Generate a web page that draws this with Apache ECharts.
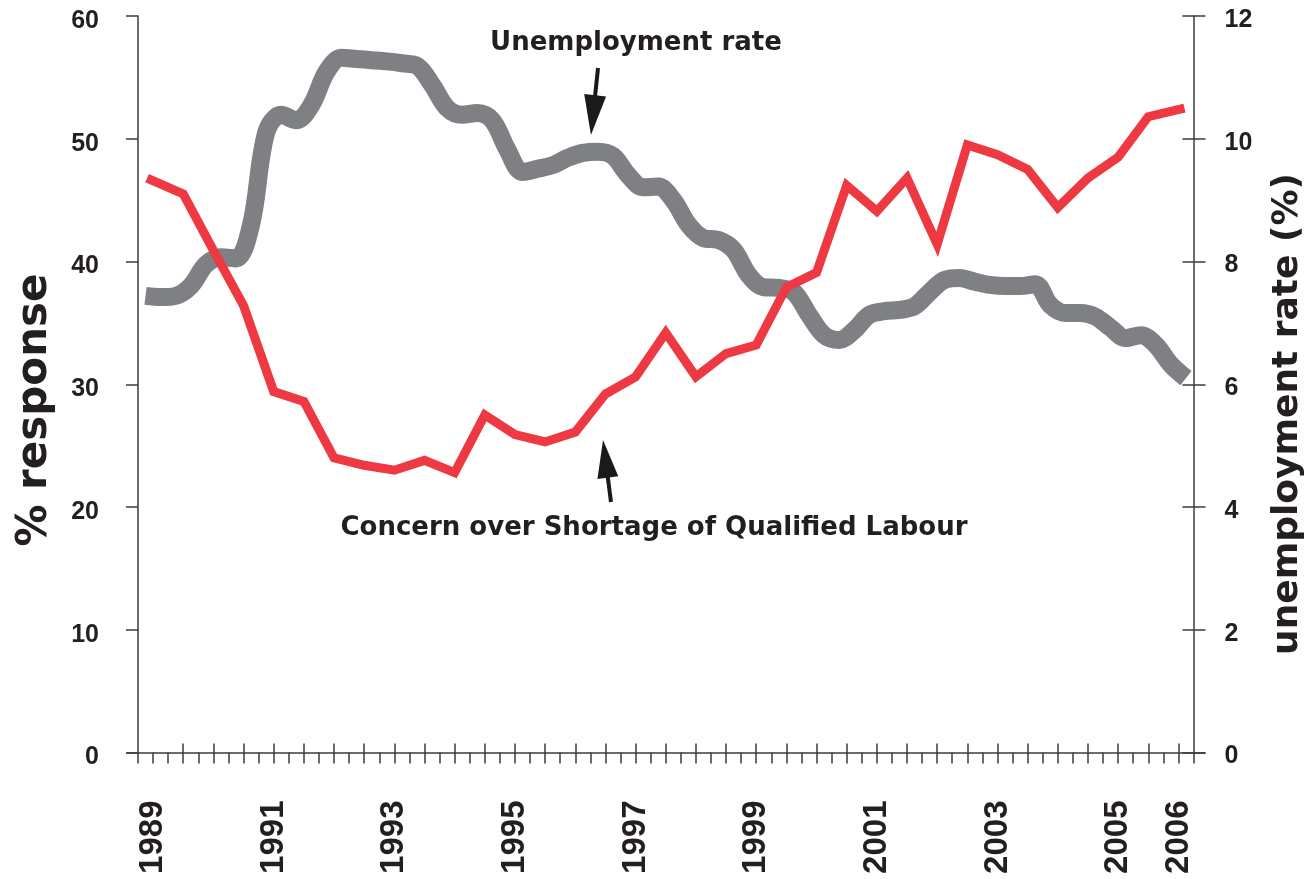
<!DOCTYPE html>
<html>
<head>
<meta charset="utf-8">
<script src="https://cdn.jsdelivr.net/npm/echarts@6/dist/echarts.min.js"></script>
<style>
html,body{margin:0;padding:0;background:#ffffff;}
#chart{width:1311px;height:879px;}
</style>
</head>
<body>
<div id="chart"></div>
<script>
// ---------- data ----------
const yearLabels = [1989, 1991, 1993, 1995, 1997, 1999, 2001, 2003, 2005, 2006];

// Concern over Shortage of Qualified Labour (% response, left axis), half-yearly
const concernYears = [1988.9, 1989.5, 1990.0, 1990.5, 1991.0, 1991.5, 1992.0, 1992.5, 1993.0, 1993.5,
  1994.0, 1994.5, 1995.0, 1995.5, 1996.0, 1996.5, 1997.0, 1997.5, 1998.0, 1998.5,
  1999.0, 1999.5, 2000.0, 2000.5, 2001.0, 2001.5, 2002.0, 2002.5, 2003.0, 2003.5,
  2004.0, 2004.5, 2005.0, 2005.5, 2006.1];
const concernValues = [46.8, 45.5, 40.9, 36.4, 29.4, 28.6, 24.0, 23.4, 23.0, 23.8,
  22.8, 27.5, 25.9, 25.3, 26.1, 29.2, 30.6, 34.2, 30.6, 32.5,
  33.2, 37.9, 39.1, 46.2, 44.1, 46.8, 41.4, 49.5, 48.7, 47.5,
  44.4, 46.8, 48.5, 51.8, 52.5];

// Unemployment rate (%, right axis), quarterly from 1988.875
const unempValues = [7.44, 7.42, 7.44, 7.6, 7.95, 8.07, 8.05, 8.6, 10.1, 10.39,
  10.3, 10.55, 11.09, 11.32, 11.3, 11.28, 11.26, 11.23, 11.19, 10.88,
  10.5, 10.39, 10.42, 10.3, 9.82, 9.46, 9.51, 9.57, 9.69, 9.77,
  9.79, 9.72, 9.41, 9.21, 9.22, 9.0, 8.6, 8.38, 8.35, 8.19,
  7.78, 7.58, 7.57, 7.5, 7.13, 6.8, 6.72, 6.88, 7.13, 7.19,
  7.21, 7.27, 7.5, 7.7, 7.73, 7.67, 7.62, 7.6, 7.6, 7.63,
  7.29, 7.16, 7.16, 7.1, 6.92, 6.75, 6.8, 6.64, 6.32, 6.1];
const unempYears = unempValues.map((_, i) => 1988.875 + i * 0.25);

// ---------- layout ----------
const GRID_L = 138, GRID_R = 1193.5, GRID_T = 16, GRID_B = 752.5;
const X_MIN = 1988.75, X_MAX = 2006.25;
const PX_PER_YR = (GRID_R - GRID_L) / (X_MAX - X_MIN);
const AX_L = 127, AX_R = 1205;
const X2_MIN = X_MIN - (GRID_L - AX_L) / PX_PER_YR;
const X2_MAX = X_MAX + (AX_R - GRID_R) / PX_PER_YR;

const quarterTicks = [];
for (let q = 1988.75; q <= 2006.25 + 1e-9; q += 0.25) quarterTicks.push(q);
const halfTicks = [];
for (let h = 1989.5; h <= 2006 + 1e-9; h += 0.5) halfTicks.push(h);

const AX_COLOR = '#3b3b3b';
const TXT = '#231f20';
const RED = '#ee3942';
const GRAY = '#7f8084';
const NUM_FONT = '"Liberation Sans", Arial, sans-serif';
const TXT_FONT = '"DejaVu Sans", sans-serif';

const chart = echarts.init(document.getElementById('chart'), null, {renderer: 'canvas'});

const option = {
  animation: false,
  backgroundColor: '#ffffff',
  grid: [
    {left: GRID_L, top: GRID_T, width: GRID_R - GRID_L, height: GRID_B - GRID_T},
    {left: AX_L, top: GRID_T, width: AX_R - AX_L, height: GRID_B - GRID_T}
  ],
  xAxis: [
    {gridIndex: 0, type: 'value', min: X_MIN, max: X_MAX, show: false},
    {
      gridIndex: 1, type: 'value', min: X2_MIN, max: X2_MAX, position: 'bottom',
      axisLine: {show: true, onZero: false, lineStyle: {color: AX_COLOR, width: 1.5}},
      axisTick: {show: true, inside: false, length: 11, customValues: quarterTicks,
        lineStyle: {color: AX_COLOR, width: 1.5}},
      axisLabel: {show: true, customValues: yearLabels, rotate: 90, margin: 48,
        fontSize: 33, fontWeight: 'bold', fontFamily: NUM_FONT, color: TXT,
        formatter: v => String(Math.round(v))},
      splitLine: {show: false}
    },
    {
      gridIndex: 1, type: 'value', min: X2_MIN, max: X2_MAX, position: 'bottom',
      axisLine: {show: false, onZero: false},
      axisTick: {show: true, inside: true, length: 9, customValues: halfTicks,
        lineStyle: {color: AX_COLOR, width: 1.5}},
      axisLabel: {show: false},
      splitLine: {show: false}
    }
  ],
  yAxis: [
    {
      gridIndex: 0, type: 'value', position: 'left', min: 0, max: 60, interval: 10,
      axisLine: {show: true, onZero: false, lineStyle: {color: AX_COLOR, width: 1.5}},
      axisTick: {show: true, inside: false, length: 12, lineStyle: {color: AX_COLOR, width: 1.5}},
      axisLabel: {show: true, margin: 39, fontSize: 25, fontWeight: 'bold', fontFamily: NUM_FONT,
        color: TXT, verticalAlign: 'top', lineHeight: 10},
      splitLine: {show: false}
    },
    {
      gridIndex: 0, type: 'value', position: 'right', min: 0, max: 12, interval: 2,
      axisLine: {show: true, onZero: false, lineStyle: {color: AX_COLOR, width: 1.5}},
      axisTick: {show: true, inside: false, length: 12, lineStyle: {color: AX_COLOR, width: 1.5}},
      axisLabel: {show: true, margin: 31, fontSize: 25, fontWeight: 'bold', fontFamily: NUM_FONT,
        color: TXT, verticalAlign: 'top', lineHeight: 8},
      splitLine: {show: false}
    },
    {
      gridIndex: 0, type: 'value', position: 'right', min: 0, max: 12, interval: 2,
      axisLine: {show: false, onZero: false},
      axisTick: {show: true, inside: true, length: 11, lineStyle: {color: AX_COLOR, width: 1.5}},
      axisLabel: {show: false},
      splitLine: {show: false}
    },
    {gridIndex: 1, type: 'value', min: 0, max: 1, show: false}
  ],
  series: [
    {
      name: 'Unemployment rate', type: 'line', xAxisIndex: 0, yAxisIndex: 1,
      data: unempYears.map((x, i) => [x, unempValues[i]]),
      showSymbol: false, symbol: 'none', smooth: 0.35,
      lineStyle: {color: GRAY, width: 18, cap: 'butt', join: 'round'},
      z: 2
    },
    {
      name: 'Concern over Shortage of Qualified Labour', type: 'line', xAxisIndex: 0, yAxisIndex: 0,
      data: concernYears.map((x, i) => [x, concernValues[i]]),
      showSymbol: false, symbol: 'none', smooth: false,
      lineStyle: {color: RED, width: 9, cap: 'butt', join: 'miter', miterLimit: 10},
      z: 3
    }
  ]
};
chart.setOption(option);

// ---------- annotations (anchored in data coordinates) ----------
function px(axisY, x, y) {
  return chart.convertToPixel({xAxisIndex: 0, yAxisIndex: axisY}, [x, y]);
}
function arrow(tail, tip, headLen, headW, shaftW) {
  const dx = tip[0] - tail[0], dy = tip[1] - tail[1];
  const len = Math.sqrt(dx * dx + dy * dy);
  const ux = dx / len, uy = dy / len;
  const nx = -uy, ny = ux;
  const bx = tip[0] - ux * headLen, by = tip[1] - uy * headLen;
  return [
    {type: 'line', silent: true, z: 10,
      shape: {x1: tail[0], y1: tail[1], x2: bx + ux * 2, y2: by + uy * 2},
      style: {stroke: '#1a1a1a', lineWidth: shaftW}},
    {type: 'polygon', silent: true, z: 10,
      shape: {points: [[tip[0], tip[1]], [bx + nx * headW / 2, by + ny * headW / 2], [bx - nx * headW / 2, by - ny * headW / 2]]},
      style: {fill: '#1a1a1a'}}
  ];
}

const uTxt = px(1, 1997.007, 11.56);
const cTxt = px(0, 1997.305, 18.29);
const graphics = [];
graphics.push(...arrow(px(1, 1996.377, 11.153), px(1, 1996.26, 10.061), 40, 22, 4));
graphics.push(...arrow(px(0, 1996.592, 20.41), px(0, 1996.46, 25.46), 38, 21, 4));
graphics.push({type: 'text', silent: true, z: 10, x: uTxt[0], y: uTxt[1],
  style: {text: 'Unemployment rate', fill: TXT, font: 'bold 26px ' + TXT_FONT, align: 'center', verticalAlign: 'middle'}});
graphics.push({type: 'text', silent: true, z: 10, x: cTxt[0], y: cTxt[1],
  style: {text: 'Concern over Shortage of Qualified Labour', fill: TXT, font: 'bold 26px ' + TXT_FONT, align: 'center', verticalAlign: 'middle'}});
// axis titles
graphics.push({type: 'text', silent: true, z: 10, x: 35, y: 410, rotation: Math.PI / 2,
  style: {text: '% response', fill: TXT, font: 'bold 42px ' + TXT_FONT, align: 'center', verticalAlign: 'middle'}});
graphics.push({type: 'text', silent: true, z: 10, x: 1288, y: 414, rotation: Math.PI / 2,
  style: {text: 'unemployment rate (%)', fill: TXT, font: 'bold 36px ' + TXT_FONT, align: 'center', verticalAlign: 'middle'}});

chart.setOption({graphic: graphics});
</script>
</body>
</html>
